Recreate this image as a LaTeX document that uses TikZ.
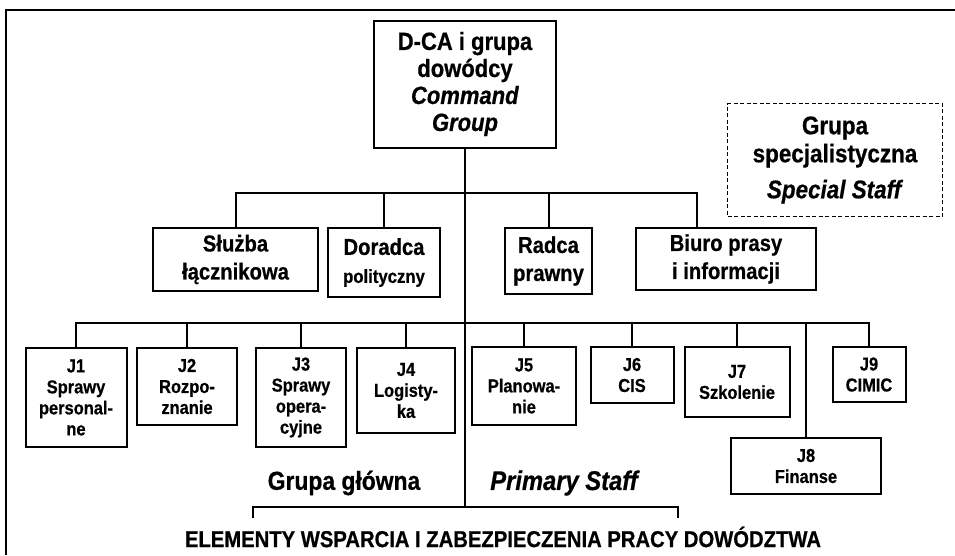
\documentclass[tikz,border=0pt]{standalone}
\usepackage{fontspec}
\usetikzlibrary{calc}
\setmainfont[FakeStretch=0.88,
  BoldFeatures={FakeBold=0.6},
  BoldItalicFeatures={FakeBold=0.6}]{Liberation Sans}
\begin{document}
\begin{tikzpicture}[x=1pt,y=-1pt,
  box/.style={draw, line width=2pt, inner sep=0pt, align=center, fill=white},
  topfont/.style={font=\fontsize{25}{27}\selectfont\bfseries},
  midfont/.style={font=\fontsize{23}{28}\selectfont\bfseries},
  jfont/.style={font=\fontsize{18.7}{21}\selectfont\bfseries},
  link/.style={line width=2pt},
  label/.style={inner sep=0pt}]
\useasboundingbox (0,0) rectangle (955,555);
\fill[white] (0,0) rectangle (955,555);

% outer frame
\draw[line width=2.2pt] (6,555) -- (6,10) -- (955,10);

% command group and special staff
\node[box, topfont, minimum width=182pt, minimum height=127pt] (cmd) at (465,84)
  {D-CA i grupa\\dowódcy\\\textit{Command}\\\textit{Group}};
\node[box, line width=1.4pt, dash pattern=on 4pt off 2.5pt,
  font=\fontsize{25.5}{28}\selectfont\bfseries,
  minimum width=215pt, minimum height=113pt] (spec) at (835,160)
  {Grupa\\specjalistyczna\\[8pt]\textit{Special Staff}};

% second level
\node[box, midfont, minimum width=165pt, minimum height=63pt] (slu) at (235.5,259.5)
  {Służba\\łącznikowa};
\node[box, midfont, minimum width=112pt, minimum height=69pt] (dor) at (384,262.5)
  {Doradca\\{\fontsize{19}{20}\selectfont polityczny}};
\node[box, midfont, minimum width=87pt, minimum height=66pt] (rad) at (548.5,261)
  {Radca\\prawny};
\node[box, midfont, minimum width=180pt, minimum height=62pt] (bio) at (726,259)
  {Biuro prasy\\i informacji};

% third level
\node[box, jfont, minimum width=101pt, minimum height=99pt] (j1) at (76,397.5)
  {J1\\Sprawy\\personal-\\ne};
\node[box, jfont, minimum width=100pt, minimum height=77pt] (j2) at (187,386.5)
  {J2\\Rozpo-\\znanie};
\node[box, jfont, minimum width=90pt, minimum height=99pt] (j3) at (301,397.5)
  {J3\\Sprawy\\opera-\\cyjne};
\node[box, jfont, minimum width=98pt, minimum height=85pt] (j4) at (406,390.5)
  {J4\\Logisty-\\ka};
\node[box, jfont, minimum width=104pt, minimum height=78pt] (j5) at (524,386)
  {J5\\Planowa-\\nie};
\node[box, jfont, minimum width=83pt, minimum height=56pt] (j6) at (632,375)
  {J6\\CIS};
\node[box, jfont, minimum width=105pt, minimum height=70pt] (j7) at (737,382)
  {J7\\Szkolenie};
\node[box, jfont, minimum width=150pt, minimum height=56pt] (j8) at (806,466)
  {J8\\Finanse};
\node[box, jfont, minimum width=73pt, minimum height=55pt] (j9) at (869,374.5)
  {J9\\CIMIC};

% bus points
\coordinate (bus2) at (465,193);
\coordinate (bus3) at (465,323);
\coordinate (bra) at (465,507);
\coordinate (bioin) at ($(bio.north west)!0.34!(bio.north east)$);

% spine
\draw[link] (cmd.south) -- (bra);

% second-level bus
\draw[link] (slu.north) -- (slu.north |- bus2) -- (bioin |- bus2) -- (bioin);
\draw[link] (dor.north) -- (dor.north |- bus2);
\draw[link] (rad.north) -- (rad.north |- bus2);

% third-level bus
\draw[link] (j1.north) -- (j1.north |- bus3) -- (j9.north |- bus3) -- (j9.north);
\foreach \n in {j2,j3,j4,j5,j6,j7,j8}
  \draw[link] (\n.north) -- (\n.north |- bus3);

% bracket under the primary staff
\coordinate (brl) at (253,507);
\coordinate (brr) at (678,507);
\draw[line width=2.2pt] ($(brl)+(0,11)$) -- (brl) -- (brr) -- ($(brr)+(0,11)$);

% captions
\node[label, font=\fontsize{26}{28}\selectfont\bfseries] (gg) at (344,483) {Grupa główna};
\node[label, font=\fontsize{27}{28}\selectfont\bfseries\itshape] (ps) at (564,483) {Primary Staff};
\node[label, font=\fontsize{23}{24}\selectfont\bfseries] (elem) at (503,537)
  {ELEMENTY WSPARCIA I ZABEZPIECZENIA PRACY DOWÓDZTWA};
\end{tikzpicture}
\end{document}
